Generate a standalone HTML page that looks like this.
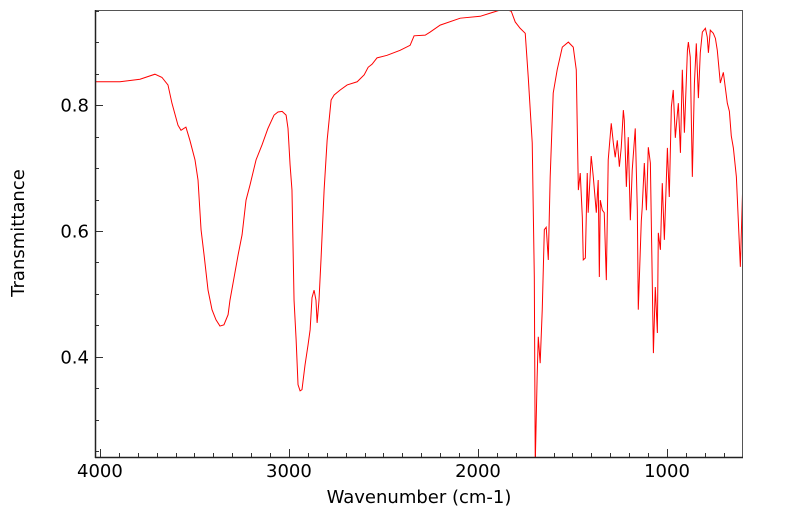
<!DOCTYPE html>
<html><head><meta charset="utf-8">
<style>
html,body{margin:0;padding:0;background:#fff;}
svg{display:block;font-family:"DejaVu Sans","Liberation Sans",sans-serif;}
</style></head>
<body>
<svg id="chart" width="799" height="516" viewBox="0 0 799 516" xmlns="http://www.w3.org/2000/svg">
<rect x="0" y="0" width="799" height="516" fill="#fff"/>
<g id="grid-ticks"></g>
<clipPath id="plotclip"><rect x="95" y="10" width="648" height="447"/></clipPath>
<path id="series" fill="none" stroke="#ff0000" stroke-width="1" clip-path="url(#plotclip)"/>
<rect x="95.5" y="10.5" width="647" height="447" fill="none" stroke="#555" stroke-width="1"/>
<line x1="95.5" y1="10" x2="95.5" y2="458" stroke="#222" stroke-width="1.5"/>
<line x1="95" y1="457.5" x2="743" y2="457.5" stroke="#222" stroke-width="1.5"/>
<g id="labels"></g>
<text x="419" y="503" font-size="18" text-anchor="middle">Wavenumber (cm-1)</text>
<text transform="translate(24,233) rotate(-90)" font-size="18" text-anchor="middle">Transmittance</text>
</svg>
<script>
const wavenumbers = [4021,3894,3788,3709,3672,3640,3619,3587,3571,3545,3524,3497,3481,3465,3449,3428,3407,3386,3365,3344,3322,3312,3291,3269,3248,3227,3206,3174,3142,3111,3079,3058,3036,3015,3005,2994,2984,2973,2962,2952,2941,2931,2915,2899,2888,2878,2867,2857,2851,2841,2830,2814,2798,2777,2761,2729,2692,2639,2602,2581,2560,2534,2481,2412,2359,2338,2279,2253,2200,2094,1988,1935,1882,1851,1824,1803,1777,1750,1734,1713,1702,1697,1687,1681,1671,1660,1649,1639,1628,1618,1602,1581,1554,1522,1496,1480,1469,1459,1448,1443,1432,1422,1417,1401,1390,1374,1364,1358,1353,1342,1332,1321,1311,1295,1284,1274,1263,1252,1242,1231,1226,1215,1205,1194,1184,1168,1157,1152,1136,1131,1120,1109,1099,1088,1072,1062,1051,1046,1035,1025,1014,998,988,977,967,956,945,940,929,919,908,892,887,877,866,855,845,834,824,813,797,787,781,771,755,744,734,718,702,681,670,660,649,633,612,598];
const transmittance = [0.837,0.837,0.841,0.849,0.844,0.832,0.803,0.768,0.760,0.765,0.744,0.713,0.681,0.602,0.562,0.506,0.475,0.459,0.449,0.451,0.467,0.490,0.525,0.562,0.594,0.649,0.673,0.713,0.737,0.763,0.784,0.789,0.790,0.784,0.763,0.705,0.665,0.490,0.427,0.356,0.346,0.348,0.387,0.419,0.443,0.494,0.506,0.490,0.454,0.490,0.557,0.665,0.744,0.808,0.816,0.824,0.832,0.837,0.848,0.860,0.865,0.875,0.879,0.887,0.895,0.910,0.911,0.916,0.927,0.938,0.941,0.946,0.951,0.952,0.949,0.932,0.922,0.914,0.844,0.740,0.527,0.23,0.368,0.432,0.390,0.475,0.602,0.606,0.554,0.686,0.819,0.856,0.892,0.900,0.892,0.856,0.665,0.692,0.622,0.554,0.557,0.692,0.629,0.719,0.686,0.629,0.681,0.527,0.649,0.633,0.629,0.522,0.713,0.771,0.740,0.717,0.744,0.702,0.733,0.792,0.776,0.670,0.749,0.617,0.697,0.763,0.633,0.475,0.616,0.638,0.708,0.633,0.733,0.708,0.406,0.511,0.438,0.597,0.570,0.676,0.586,0.732,0.654,0.797,0.824,0.748,0.787,0.803,0.724,0.856,0.756,0.887,0.900,0.876,0.686,0.835,0.898,0.811,0.883,0.916,0.922,0.908,0.883,0.919,0.914,0.906,0.887,0.835,0.852,0.803,0.790,0.751,0.732,0.686,0.543,0.686];
const xTickLabels = [4000,3000,2000,1000];
const yTickLabels = [0.8,0.6,0.4];

const X0=95, X1=743, Y0=10, Y1=457;
const WN_MAX=4026, WN_MIN=598, T_MAX=0.951, T_MIN=0.241;
function xs(w){return X0+(WN_MAX-w)/(WN_MAX-WN_MIN)*(X1-X0);}
function ys(t){return Y0+(T_MAX-t)/(T_MAX-T_MIN)*(Y1-Y0);}
const NS="http://www.w3.org/2000/svg";

let d="";
for(let i=0;i<wavenumbers.length;i++){d+=(i?"L":"M")+xs(wavenumbers[i]).toFixed(2)+","+ys(transmittance[i]).toFixed(2);}
document.getElementById("series").setAttribute("d",d);

const tg=document.getElementById("grid-ticks");
function line(x1,y1,x2,y2,name){
  const l=document.createElementNS(NS,"line");
  l.setAttribute("x1",x1);l.setAttribute("y1",y1);l.setAttribute("x2",x2);l.setAttribute("y2",y2);
  l.setAttribute("stroke","#333");l.setAttribute("stroke-width","1");
  
  
  tg.appendChild(l);
}
for(let w=700;w<=4000;w+=100){
  const x=Math.round(xs(w))+0.5; const major=(w%1000===0);
  line(x,Y1,x,Y1-(major?8:4),major?"x-major-tick":"x-minor-tick");
}
for(let k=5;k<=19;k++){
  const t=k*0.05; if(t<T_MIN||t>T_MAX) continue;
  const y=Math.round(ys(t))+0.5; const major=(k%4===0);
  line(X0,y,X0+(major?8:4),y,major?"y-major-tick":"y-minor-tick");
}
const lg=document.getElementById("labels");
xTickLabels.forEach(v=>{
  const t=document.createElementNS(NS,"text");
  t.setAttribute("x",xs(v));t.setAttribute("y",477);t.setAttribute("font-size","18");t.setAttribute("text-anchor","middle");
  t.textContent=v;
  
  
  lg.appendChild(t);
});
yTickLabels.forEach(v=>{
  const t=document.createElementNS(NS,"text");
  t.setAttribute("x",89);t.setAttribute("y",ys(v)+6.5);t.setAttribute("font-size","18");t.setAttribute("text-anchor","end");
  t.textContent=v.toFixed(1);
  
  
  lg.appendChild(t);
});
</script>
</body></html>
